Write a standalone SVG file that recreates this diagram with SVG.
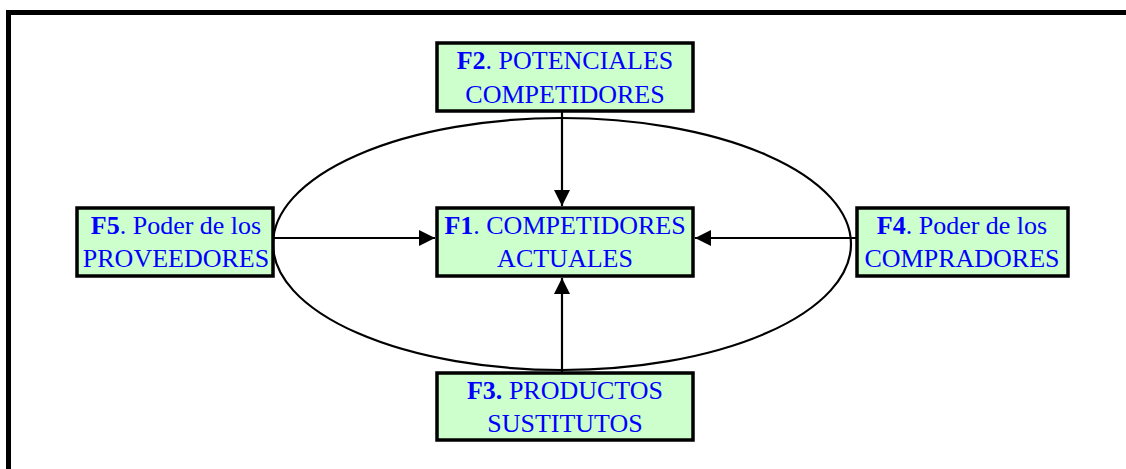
<svg xmlns="http://www.w3.org/2000/svg" width="1126" height="469" viewBox="0 0 1126 469">
<style>
.box{fill:#ccffcc;stroke:#000;stroke-width:3.5}
.t{font-family:"Liberation Serif","Times New Roman",serif;font-size:26px;fill:#0000ff;text-anchor:middle}
.b{font-weight:bold}
.c{stroke:#000;stroke-width:2.2;fill:none}
</style>
<defs>
<marker id="ah" viewBox="0 0 16 16" refX="16" refY="8" markerWidth="16" markerHeight="16" markerUnits="userSpaceOnUse" orient="auto">
<path d="M0,0 L16,8 L0,16 z" fill="#000"/>
</marker>
</defs>
<rect width="1126" height="469" fill="#fff"/>
<path d="M8.5,469 V12.5 H1126" fill="none" stroke="#000" stroke-width="5"/>
<ellipse cx="562" cy="244" rx="289" ry="126" class="c"/>
<g id="connectors">
<line x1="562" y1="111" x2="562" y2="206" class="c" marker-end="url(#ah)"/>
<line x1="562" y1="373" x2="562" y2="278" class="c" marker-end="url(#ah)"/>
<line x1="273" y1="238" x2="435" y2="238" class="c" marker-end="url(#ah)"/>
<line x1="857" y1="238" x2="695" y2="238" class="c" marker-end="url(#ah)"/>
</g>
<g id="F2">
<rect x="437" y="43" width="256" height="68" class="box"/>
<text x="565" y="69" class="t"><tspan class="b">F2</tspan>. POTENCIALES</text>
<text x="565" y="103" class="t">COMPETIDORES</text>
</g>
<g id="F1">
<rect x="437" y="208" width="256" height="68" class="box"/>
<text x="565" y="234" class="t"><tspan class="b">F1</tspan>. COMPETIDORES</text>
<text x="565" y="267" class="t">ACTUALES</text>
</g>
<g id="F5">
<rect x="77" y="208" width="196" height="68" class="box"/>
<text x="176" y="234" class="t"><tspan class="b">F5</tspan>. Poder de los</text>
<text x="176" y="267" class="t">PROVEEDORES</text>
</g>
<g id="F4">
<rect x="857" y="208" width="211" height="68" class="box"/>
<text x="962" y="234" class="t"><tspan class="b">F4</tspan>. Poder de los</text>
<text x="962" y="267" class="t">COMPRADORES</text>
</g>
<g id="F3">
<rect x="437" y="373" width="256" height="67" class="box"/>
<text x="565" y="399" class="t"><tspan class="b">F3.</tspan> PRODUCTOS</text>
<text x="565" y="432" class="t">SUSTITUTOS</text>
</g>
</svg>
